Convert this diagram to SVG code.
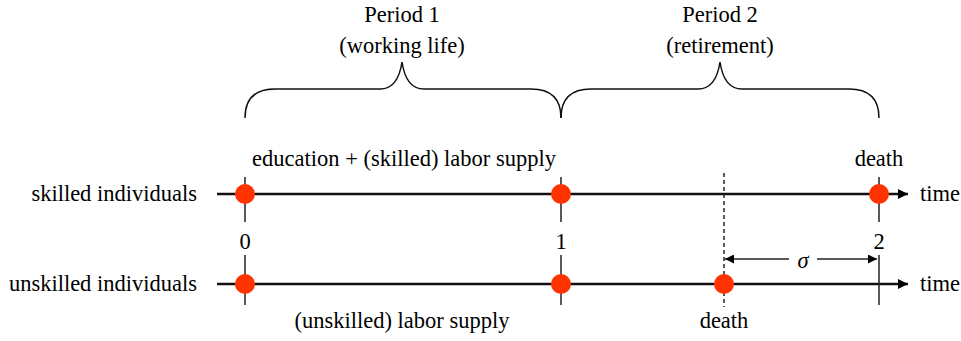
<svg xmlns="http://www.w3.org/2000/svg" width="961" height="341" viewBox="0 0 961 341">
<style>
text{font-family:"Liberation Serif","Times New Roman",serif;font-size:22.5px;fill:#000}
.ax{stroke:#111;stroke-width:2.5;fill:none}
.tk{stroke:#222;stroke-width:1.5;fill:none}
.br{stroke:#111;stroke-width:1.5;fill:none}
.dot{fill:#ff3300}
</style>
<defs>
<marker id="ah" viewBox="0 0 10 10" refX="10" refY="5" markerWidth="14" markerHeight="10" markerUnits="userSpaceOnUse" orient="auto"><path d="M0,0L10,5L0,10z" fill="#000"/></marker>
<marker id="sa" viewBox="0 0 10 10" refX="10" refY="5" markerWidth="12" markerHeight="9" markerUnits="userSpaceOnUse" orient="auto-start-reverse"><path d="M0,0L10,5L0,10z" fill="#000"/></marker>
</defs>
<g id="labels">
<text x="402" y="22" text-anchor="middle">Period 1</text>
<text x="402" y="53" text-anchor="middle">(working life)</text>
<text x="720" y="22" text-anchor="middle">Period 2</text>
<text x="720" y="53" text-anchor="middle">(retirement)</text>
<text x="404" y="166" text-anchor="middle">education + (skilled) labor supply</text>
<text x="879" y="166" text-anchor="middle">death</text>
<text x="197" y="201" text-anchor="end">skilled individuals</text>
<text x="197" y="291" text-anchor="end">unskilled individuals</text>
<text x="920" y="201">time</text>
<text x="920" y="291">time</text>
<text x="245" y="249" text-anchor="middle" font-size="24">0</text>
<text x="561" y="249" text-anchor="middle" font-size="24">1</text>
<text x="879" y="249" text-anchor="middle" font-size="24">2</text>
<text x="402" y="328" text-anchor="middle">(unskilled) labor supply</text>
<text x="724" y="328" text-anchor="middle">death</text>
<text x="803" y="268" text-anchor="middle" font-style="italic" font-size="32">σ</text>
</g>
<g id="connectors">
<path class="br" d="M245,118 Q245,89 275,89 L380,89 Q398,89 402,62 Q406,89 424,89 L531,89 Q561,89 561,118"/>
<path class="br" d="M561,118 Q561,89 591,89 L698,89 Q716,89 720,62 Q724,89 742,89 L849,89 Q879,89 879,118"/>
<line class="ax" x1="217" y1="194" x2="908" y2="194" marker-end="url(#ah)"/>
<line class="ax" x1="217" y1="284" x2="908" y2="284" marker-end="url(#ah)"/>
<line class="tk" x1="245" y1="177" x2="245" y2="222"/>
<line class="tk" x1="561" y1="177" x2="561" y2="222"/>
<line class="tk" x1="879" y1="177" x2="879" y2="222"/>
<line class="tk" x1="245" y1="255" x2="245" y2="305"/>
<line class="tk" x1="561" y1="255" x2="561" y2="305"/>
<line class="tk" x1="879" y1="255" x2="879" y2="305"/>
<line class="tk" x1="724" y1="173" x2="724" y2="307" stroke-dasharray="4,3"/>
<line class="tk" x1="725" y1="259" x2="789" y2="259" marker-start="url(#sa)"/>
<line class="tk" x1="817" y1="259" x2="877" y2="259" marker-end="url(#sa)"/>
</g>
<g id="dots">
<circle class="dot" cx="245" cy="194" r="10"/>
<circle class="dot" cx="561" cy="194" r="10"/>
<circle class="dot" cx="879" cy="194" r="10"/>
<circle class="dot" cx="245" cy="284" r="10"/>
<circle class="dot" cx="561" cy="284" r="10"/>
<circle class="dot" cx="724" cy="284" r="10"/>
</g>
</svg>
